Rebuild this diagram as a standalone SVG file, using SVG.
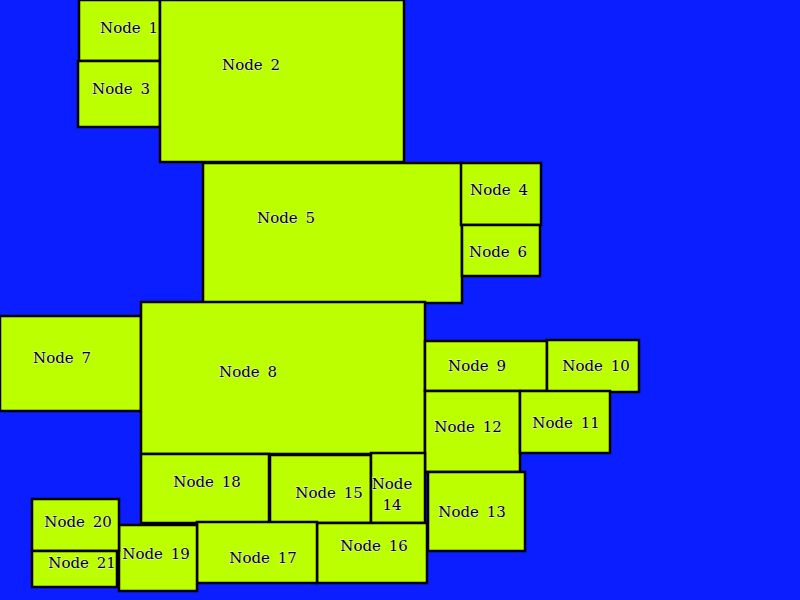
<svg xmlns="http://www.w3.org/2000/svg" width="800" height="600" viewBox="0 0 800 600">
<style>
.n rect{fill:#bbff00;stroke:#000;stroke-width:2.5}
.n text{font-family:"DejaVu Serif","Liberation Serif",serif;font-size:15px;fill:#000;text-anchor:middle;dominant-baseline:central;stroke:#f4f4f4;stroke-width:0.8;paint-order:stroke;word-spacing:3px}
</style>
<rect x="0" y="0" width="800" height="600" fill="#0a1eff"/>
<g id="connectors"/>
<g id="node1" class="n"><rect x="79" y="0" width="81" height="61"/><text x="129" y="28">Node 1</text></g>
<g id="node3" class="n"><rect x="78" y="61" width="82" height="66"/><text x="121" y="89">Node 3</text></g>
<g id="node2" class="n"><rect x="160" y="0" width="244" height="162"/><text x="251" y="65">Node 2</text></g>
<g id="node5" class="n"><rect x="203" y="163" width="259" height="140"/><text x="286" y="218">Node 5</text></g>
<g id="node4" class="n"><rect x="461" y="163" width="80" height="62"/><text x="499" y="190">Node 4</text></g>
<g id="node6" class="n"><rect x="462" y="225" width="78" height="51"/><text x="498" y="252">Node 6</text></g>
<g id="node7" class="n"><rect x="0" y="316" width="141" height="95"/><text x="62" y="358">Node 7</text></g>
<g id="node8" class="n"><rect x="141" y="302" width="284" height="152"/><text x="248" y="372">Node 8</text></g>
<g id="node9" class="n"><rect x="425" y="341" width="122" height="50"/><text x="477" y="366">Node 9</text></g>
<g id="node10" class="n"><rect x="547" y="340" width="92" height="52"/><text x="596" y="366">Node 10</text></g>
<g id="node12" class="n"><rect x="425" y="391" width="95" height="81"/><text x="468" y="427">Node 12</text></g>
<g id="node11" class="n"><rect x="520" y="391" width="90" height="62"/><text x="566" y="423">Node 11</text></g>
<g id="node13" class="n"><rect x="428" y="472" width="97" height="79"/><text x="472" y="512">Node 13</text></g>
<g id="node18" class="n"><rect x="141" y="454" width="128" height="69"/><text x="207" y="482">Node 18</text></g>
<g id="node15" class="n"><rect x="270" y="455" width="101" height="68"/><text x="329" y="493">Node 15</text></g>
<g id="node14" class="n"><rect x="371" y="453" width="54" height="70"/><text x="392" y="484">Node</text><text x="392" y="505">14</text></g>
<g id="node16" class="n"><rect x="317" y="523" width="110" height="60"/><text x="374" y="546">Node 16</text></g>
<g id="node17" class="n"><rect x="197" y="522" width="120" height="61"/><text x="263" y="558">Node 17</text></g>
<g id="node19" class="n"><rect x="119" y="525" width="78" height="66"/><text x="156" y="554">Node 19</text></g>
<g id="node20" class="n"><rect x="32" y="499" width="87" height="52"/><text x="78" y="522">Node 20</text></g>
<g id="node21" class="n"><rect x="32" y="551" width="85" height="36"/><text x="82" y="563">Node 21</text></g>
</svg>
